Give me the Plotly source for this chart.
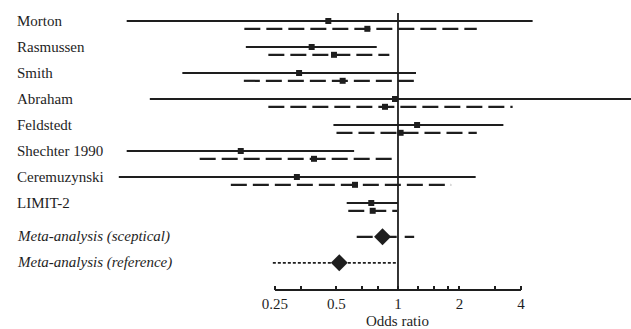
import plotly.graph_objects as go

# ---- data ----
trials = ["Morton", "Rasmussen", "Smith", "Abraham", "Feldstedt",
          "Shechter 1990", "Ceremuzynski", "LIMIT-2"]
# solid-line intervals (first estimate)
solid_lo = [0.047, 0.18, 0.088, 0.061, 0.483, 0.047, 0.043, 0.561]
solid_est = [0.456, 0.378, 0.328, 0.967, 1.24, 0.17, 0.32, 0.74]
solid_hi = [4.56, 0.787, 1.225, 16.0, 3.28, 0.61, 2.4, 1.0]
# dashed-line intervals (second estimate)
dash_lo = [0.177, 0.232, 0.176, 0.232, 0.50, 0.107, 0.152, 0.571]
dash_est = [0.708, 0.486, 0.536, 0.864, 1.03, 0.388, 0.616, 0.752]
dash_hi = [2.43, 0.907, 1.27, 3.64, 2.43, 0.98, 1.82, 0.99]

meta_labels = ["Meta-analysis (sceptical)", "Meta-analysis (reference)"]
meta_lo = [0.628, 0.244]
meta_est = [0.84, 0.516]
meta_hi = [1.2, 0.985]

tick_vals = [0.25, 1/3, 0.5, 2/3, 0.8, 1, 1.25, 1.5, 1.75, 2, 3, 4]
tick_text = ["0.25", "", "0.5", "", "", "1", "", "", "", "2", "", "4"]

INK = "#1e1e1e"
FONT = "Liberation Serif"

rows = list(range(len(trials)))
dash_off = 0.3
meta_rows = [len(trials) + dash_off, len(trials) + 1 + dash_off]

fig = go.Figure()

def seg(lo, hi, ys):
    xs, yy = [], []
    for a, b, y in zip(lo, hi, ys):
        xs += [a, b, None]
        yy += [y, y, None]
    return xs, yy

# solid lines
xs, ys = seg(solid_lo, solid_hi, rows)
fig.add_trace(go.Scatter(x=xs, y=ys, mode="lines",
                         line=dict(color=INK, width=2), hoverinfo="skip"))
fig.add_trace(go.Scatter(x=solid_est, y=rows, mode="markers",
                         marker=dict(symbol="square", size=6, color=INK)))
# dashed lines
drows = [r + dash_off for r in rows]
xs, ys = seg(dash_lo, dash_hi, drows)
fig.add_trace(go.Scatter(x=xs, y=ys, mode="lines",
                         line=dict(color=INK, width=2.2, dash="16px,6px"),
                         hoverinfo="skip"))
fig.add_trace(go.Scatter(x=dash_est, y=drows, mode="markers",
                         marker=dict(symbol="square", size=6, color=INK)))
# meta-analyses
fig.add_trace(go.Scatter(x=[meta_lo[0], meta_hi[0]], y=[meta_rows[0]] * 2,
                         mode="lines",
                         line=dict(color=INK, width=2.2, dash="16px,8px")))
fig.add_trace(go.Scatter(x=[meta_lo[1], meta_hi[1]], y=[meta_rows[1]] * 2,
                         mode="lines",
                         line=dict(color=INK, width=1.8, dash="3px,2px")))
fig.add_trace(go.Scatter(x=meta_est, y=meta_rows, mode="markers",
                         marker=dict(symbol="diamond", size=13, color=INK)))

# labels
for name, r in zip(trials, rows):
    fig.add_annotation(x=15 / 631, xref="paper", y=r, yref="y", text=name,
                       showarrow=False, xanchor="left", yanchor="middle",
                       font=dict(family=FONT, size=15, color=INK))
for name, r in zip(meta_labels, meta_rows):
    fig.add_annotation(x=15 / 631, xref="paper", y=r, yref="y",
                       text="<i>" + name + "</i>",
                       showarrow=False, xanchor="left", yanchor="middle",
                       font=dict(family=FONT, size=15, color=INK))

# reference line at OR = 1 and axis line
fig.add_shape(type="line", xref="x", yref="y", x0=1, x1=1, y0=-0.31,
              y1=10.35, line=dict(color=INK, width=1.8))
fig.add_shape(type="line", xref="x", yref="paper", x0=0.25, x1=4, y0=0,
              y1=0, line=dict(color=INK, width=1.8))

fig.add_annotation(x=0, xref="x", y=-0.107, yref="paper", text="Odds ratio",
                   showarrow=False, xanchor="center", yanchor="middle",
                   font=dict(family=FONT, size=15, color=INK))

fig.update_layout(
    width=631, height=329,
    margin=dict(l=0, r=0, t=0, b=39),
    paper_bgcolor="white", plot_bgcolor="white",
    showlegend=False,
    xaxis=dict(type="log", range=[-1.948, 1.1405],
               tickvals=tick_vals, ticktext=tick_text,
               ticks="inside", ticklen=4, tickwidth=1.5, tickcolor=INK,
               ticklabelstandoff=3,
               showgrid=False, zeroline=False, showline=False,
               tickfont=dict(family=FONT, size=15, color=INK)),
    yaxis=dict(range=[10.346, -0.808], showgrid=False, zeroline=False,
               showticklabels=False, showline=False, ticks=""),
)

fig.write_html(
    "out.html",
    config={"displayModeBar": False},
    post_script="document.body.style.margin='0px';"
                "document.body.style.overflow='hidden';",
)
